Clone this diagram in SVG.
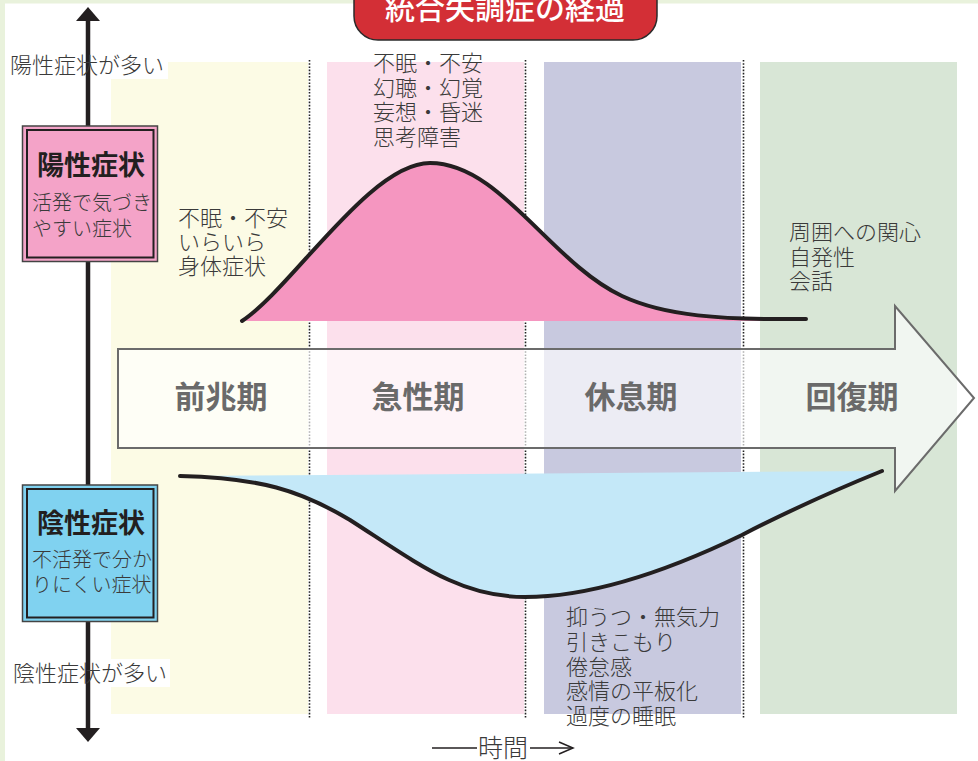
<svg xmlns="http://www.w3.org/2000/svg" width="978" height="761" viewBox="0 0 978 761">
<defs>
<style>
.t{font-family:"Noto Sans CJK JP","Noto Sans",sans-serif;fill:#3a3a3a;font-size:22px;font-weight:300}
.ph{font-family:"Noto Sans CJK JP","Noto Sans",sans-serif;fill:#6a6a6a;font-size:31px;font-weight:700;text-anchor:middle}
.bt{font-family:"Noto Sans CJK JP","Noto Sans",sans-serif;fill:#231f20;font-size:27px;font-weight:700;text-anchor:middle}
.bs{font-family:"Noto Sans CJK JP","Noto Sans",sans-serif;fill:#3a3a3a;font-size:20px;font-weight:300}
.dot{stroke:#222;stroke-width:1.6;stroke-dasharray:1.6 1.6;fill:none}
.curve{fill:none;stroke:#231f20;stroke-width:4;stroke-linecap:round}
</style>
</defs>
<rect x="0" y="0" width="978" height="761" fill="#ffffff"/>
<rect x="0" y="0" width="978" height="3.5" fill="#e9f2dc"/>
<rect x="0" y="0" width="5" height="761" fill="#e9f2dc"/>

<g id="columns">
<rect x="111" y="62" width="197" height="652" fill="#fcfbe5"/>
<rect x="327" y="62" width="197" height="652" fill="#fce0ec"/>
<rect x="544" y="62" width="197" height="652" fill="#c8c9df"/>
<rect x="760" y="62" width="197" height="652" fill="#d8e6d6"/>
<line class="dot" x1="309.5" y1="60" x2="309.5" y2="718"/>
<line class="dot" x1="525.5" y1="60" x2="525.5" y2="718"/>
<line class="dot" x1="743.5" y1="60" x2="743.5" y2="718"/>
</g>

<g id="positive-curve">
<path d="M242,321 C292,288 370,163 430,163 C500,163 550,262 622,296 C665,316 720,320 806,319 L806,321 Z" fill="#f596c0"/>
<path class="curve" d="M242,321 C292,288 370,163 430,163 C500,163 550,262 622,296 C665,316 720,320 806,319"/>
</g>

<g id="negative-curve">
<path d="M180,476 C260,478 300,490 350,520 C420,565 460,597 525,597 C600,597 680,565 742,535 C800,505 840,488 882,471 Z" fill="#c4e8f8"/>
<path class="curve" d="M180,476 C260,478 300,490 350,520 C420,565 460,597 525,597 C600,597 680,565 742,535 C800,505 840,488 882,471"/>
</g>

<g id="phase-arrow">
<polygon points="118,349 895,349 895,306 974,398 895,491 895,448 118,448" fill="#ffffff" fill-opacity="0.65" stroke="#6b6b6b" stroke-width="2"/>
<text class="ph" x="221" y="408">前兆期</text>
<text class="ph" x="418" y="408">急性期</text>
<text class="ph" x="631" y="408">休息期</text>
<text class="ph" x="852" y="408">回復期</text>
</g>

<g id="texts">
<text class="t" x="178"><tspan x="178" y="226">不眠・不安</tspan><tspan x="178" y="250">いらいら</tspan><tspan x="178" y="274">身体症状</tspan></text>
<text class="t" x="373"><tspan x="373" y="71">不眠・不安</tspan><tspan x="373" y="95.5">幻聴・幻覚</tspan><tspan x="373" y="120">妄想・昏迷</tspan><tspan x="373" y="144.5">思考障害</tspan></text>
<text class="t" x="789"><tspan x="789" y="240">周囲への関心</tspan><tspan x="789" y="265">自発性</tspan><tspan x="789" y="289">会話</tspan></text>
<text class="t" x="566"><tspan x="566" y="625">抑うつ・無気力</tspan><tspan x="566" y="650">引きこもり</tspan><tspan x="566" y="675">倦怠感</tspan><tspan x="566" y="699">感情の平板化</tspan><tspan x="566" y="724">過度の睡眠</tspan></text>
</g>

<g id="time-label">
<line x1="432" y1="748" x2="477" y2="748" stroke="#231f20" stroke-width="1.5"/>
<text class="t" x="503" y="757" text-anchor="middle" style="font-size:25px">時間</text>
<line x1="530" y1="748" x2="573" y2="748" stroke="#231f20" stroke-width="1.5"/>
<polyline points="559,742 573,748 559,754" fill="none" stroke="#231f20" stroke-width="1.5"/>
</g>

<g id="axis">
<rect x="8" y="49" width="160" height="30" fill="#ffffff"/>
<rect x="12" y="659" width="158" height="28" fill="#ffffff"/>
<line x1="88" y1="18" x2="88" y2="731" stroke="#231f20" stroke-width="4.5"/>
<polygon points="88,7 100,21 76,21" fill="#231f20"/>
<polygon points="88,742 100,728 76,728" fill="#231f20"/>
<text class="t" x="10" y="73">陽性症状が多い</text>
<text class="t" x="13" y="681">陰性症状が多い</text>
</g>

<g id="positive-box">
<rect x="22.5" y="126" width="135" height="135.5" fill="#f4a3c8" stroke="#444" stroke-width="1.5"/>
<rect x="27" y="130" width="126.5" height="127.5" fill="none" stroke="#231f20" stroke-width="2"/>
<text class="bt" x="91" y="175">陽性症状</text>
<text class="bs"><tspan x="32" y="210">活発で気づき</tspan><tspan x="32" y="236">やすい症状</tspan></text>
</g>

<g id="negative-box">
<rect x="22.5" y="485" width="135" height="136.5" fill="#80d2f0" stroke="#444" stroke-width="1.5"/>
<rect x="27" y="489" width="126.5" height="128.5" fill="none" stroke="#231f20" stroke-width="2"/>
<text class="bt" x="91" y="533">陰性症状</text>
<text class="bs"><tspan x="32" y="567">不活発で分か</tspan><tspan x="32" y="592">りにくい症状</tspan></text>
</g>

<g id="title">
<rect x="354" y="-40" width="303" height="80" rx="24" ry="24" fill="#d32f36" stroke="#2a2a2a" stroke-width="1.5"/>
<text x="505" y="19" text-anchor="middle" style="font-family:'Noto Sans CJK JP','Noto Sans',sans-serif;font-size:30px;font-weight:500;fill:#ffffff">統合失調症の経過</text>
</g>
</svg>
